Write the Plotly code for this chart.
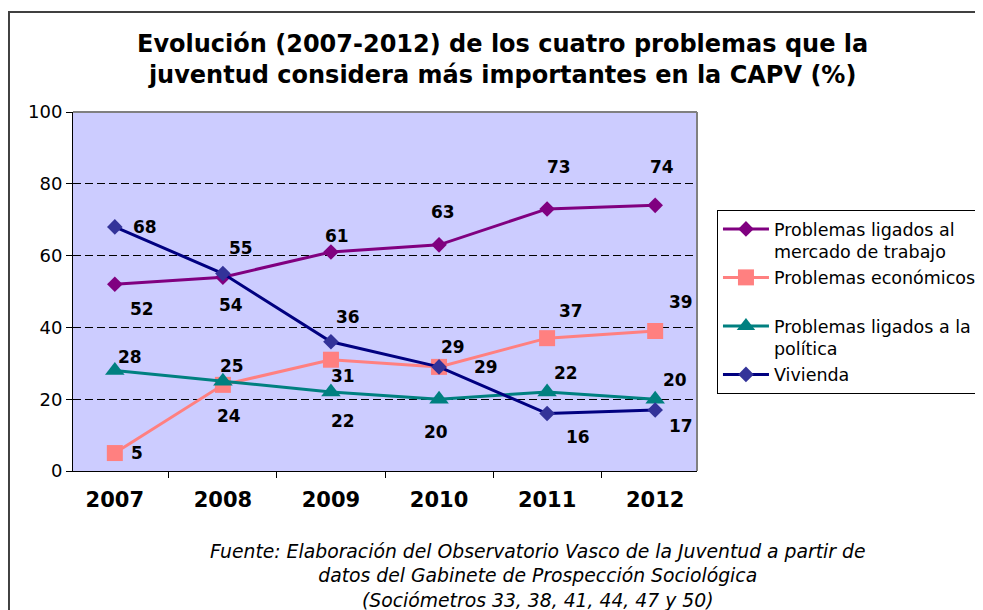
import plotly.graph_objects as go

years = ["2007", "2008", "2009", "2010", "2011", "2012"]

mercado = [52, 54, 61, 63, 73, 74]
economicos = [5, 24, 31, 29, 37, 39]
politica = [28, 25, 22, 20, 22, 20]
vivienda = [68, 55, 36, 29, 16, 17]

names = [
    "Problemas ligados al<br>mercado de trabajo",
    "Problemas económicos<br> ",
    "Problemas ligados a la<br>política",
    "Vivienda",
]

title = ("<b>Evolución (2007-2012) de los cuatro problemas que la<br>"
         "juventud considera más importantes en la CAPV (%)</b>")
source = ("<i>Fuente: Elaboración del Observatorio Vasco de la Juventud a partir de<br>"
          "datos del Gabinete de Prospección Sociológica<br>"
          "(Sociómetros 33, 38, 41, 44, 47 y 50)</i>")

# label offsets in pixels (dx right, dy down) as excel placed them
label_offsets = [
    [(27, 25), (8, 28), (6, -16), (4, -33), (12, -42), (7, -38)],
    [(22, 0), (6, 31), (12, 16), (47, 0), (24, -27), (26, -29)],
    [(15, -13), (9, -15), (12, 29), (-3, 33), (19, -19), (20, -19)],
    [(30, 0), (18, -26), (17, -25), (14, -20), (31, 23), (26, 16)],
]

series = [mercado, economicos, politica, vivienda]
line_colors = ["#800080", "#FF8080", "#008080", "#000080"]
marker_colors = ["#800080", "#FF8080", "#008080", "#333399"]
symbols = ["diamond", "square", "triangle-up", "diamond"]
sizes = [12, 16, 17, 12]

FONT = "DejaVu Sans"

fig = go.Figure()
for vals, name, lc, mc, sym, sz in zip(series, names, line_colors, marker_colors, symbols, sizes):
    fig.add_trace(go.Scatter(
        x=years, y=vals, name=name, mode="lines+markers",
        line=dict(color=lc, width=3),
        marker=dict(symbol=sym, size=sz, color=mc),
    ))

annotations = []
for vals, offs in zip(series, label_offsets):
    for i, (v, (dx, dy)) in enumerate(zip(vals, offs)):
        # category axis: annotation x is the category index
        annotations.append(dict(
            x=i, y=v, text="<b>%d</b>" % v, showarrow=False,
            xshift=dx, yshift=-dy,
            font=dict(family=FONT, size=17, color="black"),
        ))

annotations.append(dict(
    xref="paper", yref="paper", x=0.689, y=1.145,
    xanchor="center", yanchor="middle",
    text=title, showarrow=False,
    font=dict(family=FONT, size=24, color="black"),
))
annotations.append(dict(
    xref="paper", yref="paper", x=0.745, y=-0.19,
    xanchor="center", yanchor="top",
    text=source, showarrow=False,
    font=dict(family=FONT, size=18.8, color="black"),
))

fig.update_layout(
    width=983, height=610,
    margin=dict(l=65, r=294, t=104, b=147, autoexpand=False),
    paper_bgcolor="white",
    plot_bgcolor="#CCCCFF",
    font=dict(family=FONT, color="black"),
    showlegend=True,
    legend=dict(
        x=1.032, y=0.727, xanchor="left", yanchor="top",
        bgcolor="white", bordercolor="black", borderwidth=1,
        font=dict(family=FONT, size=17.5, color="black"),
        valign="top", tracegroupgap=0, itemwidth=46,
    ),
    annotations=annotations,
)

fig.update_xaxes(
    type="category", tickson="boundaries", ticks="outside", ticklen=6,
    tickcolor="black", showline=True, linecolor="black", linewidth=1,
    showgrid=False, tickfont=dict(family=FONT, size=21),
    tickprefix="<b>", ticksuffix="</b>", tickangle=0, ticklabelstandoff=10,
)
fig.update_yaxes(
    range=[0, 100], dtick=20, ticks="outside", ticklen=6, tickcolor="black",
    showline=True, linecolor="black", linewidth=1,
    showgrid=True, gridcolor="black", griddash="8px,4px", gridwidth=1,
    zeroline=False, tickfont=dict(family=FONT, size=18),
)

# gray frame on top and right of the plot area, outer chart border
fig.add_shape(type="line", xref="paper", yref="paper", x0=0, x1=1, y0=1, y1=1,
              line=dict(color="#808080", width=2))
fig.add_shape(type="line", xref="paper", yref="paper", x0=1, x1=1, y0=0, y1=1,
              line=dict(color="#808080", width=2))
fig.add_shape(type="rect", xref="paper", yref="paper",
              x0=-0.1026, x1=2.0, y0=-1.0, y1=1.2786,
              line=dict(color="#404040", width=2), layer="below")

fig.write_html("out.html")
